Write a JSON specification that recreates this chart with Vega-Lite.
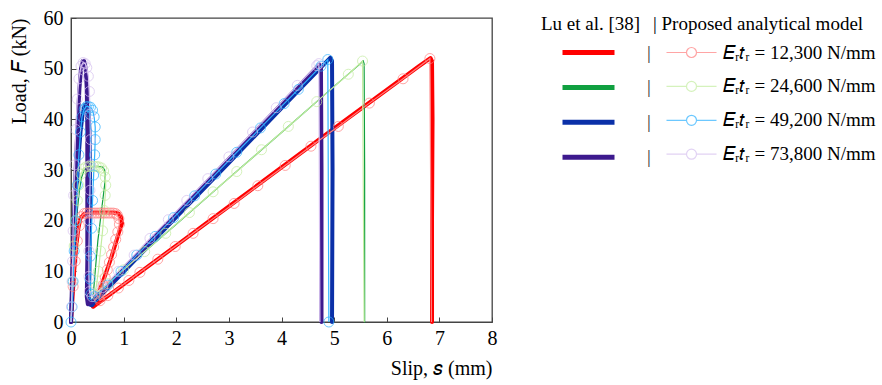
{
"$schema": "https://vega.github.io/schema/vega-lite/v6.json",
"width": 421, "height": 304,
"autosize": {"type": "none"},
"padding": {"left": 71, "top": 18, "right": 390, "bottom": 63},
"background": "white",
"config": {
  "font": "Liberation Serif",
  "view": {"stroke": "#444", "strokeWidth": 1.3},
  "axis": {"labelFont": "Liberation Serif", "labelFontSize": 20, "labelColor": "black", "titleFont": "Liberation Serif", "titleFontSize": 20, "titleFontWeight": "normal", "titleColor": "black", "domainColor": "#444", "tickColor": "#444", "grid": false, "tickSize": -5, "labelFlush": false},
  "legend": {"titleFont": "Liberation Serif", "titleFontSize": 19, "titleFontWeight": "normal", "titleColor": "black", "titleLimit": 400, "labelFont": "Liberation Serif", "labelFontSize": 19, "labelColor": "black", "labelLimit": 400, "padding": 0}
},
"datasets": {
"exp": [
{"series":"12,300","s":0,"F":0},{"series":"12,300","s":0.03,"F":5},{"series":"12,300","s":0.06,"F":10},{"series":"12,300","s":0.1,"F":15},{"series":"12,300","s":0.14,"F":18.5},{"series":"12,300","s":0.18,"F":20.5},{"series":"12,300","s":0.25,"F":21.3},{"series":"12,300","s":0.4,"F":21.6},{"series":"12,300","s":0.6,"F":21.6},{"series":"12,300","s":0.8,"F":21.6},{"series":"12,300","s":0.9,"F":21.4},{"series":"12,300","s":0.95,"F":20.8},{"series":"12,300","s":0.97,"F":19.5},{"series":"12,300","s":0.9,"F":17.3},{"series":"12,300","s":0.75,"F":12.2},{"series":"12,300","s":0.6,"F":7.8},{"series":"12,300","s":0.48,"F":4.3},{"series":"12,300","s":0.42,"F":3},{"series":"12,300","s":1,"F":7.4},{"series":"12,300","s":2,"F":15.1},{"series":"12,300","s":3,"F":22.8},{"series":"12,300","s":4,"F":30.5},{"series":"12,300","s":5,"F":38.2},{"series":"12,300","s":6,"F":45.8},{"series":"12,300","s":6.6,"F":50.4},{"series":"12,300","s":6.83,"F":52.1},{"series":"12,300","s":6.86,"F":51.5},{"series":"12,300","s":6.87,"F":40},{"series":"12,300","s":6.86,"F":20},{"series":"12,300","s":6.86,"F":0},
{"series":"24,600","s":0,"F":0},{"series":"24,600","s":0.02,"F":6},{"series":"24,600","s":0.05,"F":12},{"series":"24,600","s":0.08,"F":17},{"series":"24,600","s":0.12,"F":22},{"series":"24,600","s":0.16,"F":26},{"series":"24,600","s":0.2,"F":28.5},{"series":"24,600","s":0.25,"F":30},{"series":"24,600","s":0.35,"F":30.6},{"series":"24,600","s":0.5,"F":30.7},{"series":"24,600","s":0.6,"F":30.6},{"series":"24,600","s":0.64,"F":30},{"series":"24,600","s":0.65,"F":28},{"series":"24,600","s":0.58,"F":22},{"series":"24,600","s":0.51,"F":16},{"series":"24,600","s":0.46,"F":10},{"series":"24,600","s":0.42,"F":5},{"series":"24,600","s":1,"F":10.3},{"series":"24,600","s":2,"F":19.3},{"series":"24,600","s":3,"F":28.4},{"series":"24,600","s":4,"F":37.4},{"series":"24,600","s":5,"F":46.5},{"series":"24,600","s":5.5,"F":51},{"series":"24,600","s":5.55,"F":51.6},{"series":"24,600","s":5.57,"F":51},{"series":"24,600","s":5.58,"F":30},{"series":"24,600","s":5.58,"F":0},
{"series":"49,200","s":0,"F":0},{"series":"49,200","s":0.03,"F":8},{"series":"49,200","s":0.06,"F":16},{"series":"49,200","s":0.1,"F":25},{"series":"49,200","s":0.14,"F":32},{"series":"49,200","s":0.18,"F":37.5},{"series":"49,200","s":0.22,"F":41},{"series":"49,200","s":0.26,"F":42.8},{"series":"49,200","s":0.3,"F":43},{"series":"49,200","s":0.33,"F":42},{"series":"49,200","s":0.35,"F":38},{"series":"49,200","s":0.36,"F":30},{"series":"49,200","s":0.36,"F":20},{"series":"49,200","s":0.35,"F":10},{"series":"49,200","s":0.34,"F":5},{"series":"49,200","s":0.35,"F":3.5},{"series":"49,200","s":0.4,"F":3.3},{"series":"49,200","s":0.45,"F":4},{"series":"49,200","s":1,"F":9.9},{"series":"49,200","s":2,"F":20.7},{"series":"49,200","s":3,"F":31.4},{"series":"49,200","s":4,"F":42.2},{"series":"49,200","s":4.8,"F":50.8},{"series":"49,200","s":4.93,"F":52.2},{"series":"49,200","s":4.96,"F":51.5},{"series":"49,200","s":4.97,"F":30},{"series":"49,200","s":4.96,"F":0},
{"series":"73,800","s":0,"F":0},{"series":"73,800","s":0.02,"F":8},{"series":"73,800","s":0.04,"F":16},{"series":"73,800","s":0.07,"F":25},{"series":"73,800","s":0.1,"F":33},{"series":"73,800","s":0.13,"F":40},{"series":"73,800","s":0.16,"F":46},{"series":"73,800","s":0.19,"F":50},{"series":"73,800","s":0.22,"F":51.5},{"series":"73,800","s":0.25,"F":51.5},{"series":"73,800","s":0.28,"F":50},{"series":"73,800","s":0.3,"F":46},{"series":"73,800","s":0.31,"F":38},{"series":"73,800","s":0.31,"F":25},{"series":"73,800","s":0.31,"F":12},{"series":"73,800","s":0.3,"F":5},{"series":"73,800","s":0.32,"F":3.5},{"series":"73,800","s":0.38,"F":3.8},{"series":"73,800","s":1,"F":10.5},{"series":"73,800","s":2,"F":21.3},{"series":"73,800","s":3,"F":32.2},{"series":"73,800","s":4,"F":43},{"series":"73,800","s":4.6,"F":49.5},{"series":"73,800","s":4.72,"F":50.8},{"series":"73,800","s":4.75,"F":50},{"series":"73,800","s":4.76,"F":30},{"series":"73,800","s":4.76,"F":0}
],
"model": [
{"series":"12,300","s":0,"F":0},{"series":"12,300","s":0.04,"F":7},{"series":"12,300","s":0.08,"F":12},{"series":"12,300","s":0.12,"F":16},{"series":"12,300","s":0.16,"F":19},{"series":"12,300","s":0.2,"F":20.8},{"series":"12,300","s":0.25,"F":21.4},{"series":"12,300","s":0.3,"F":21.5},{"series":"12,300","s":0.35,"F":21.5},{"series":"12,300","s":0.4,"F":21.5},{"series":"12,300","s":0.45,"F":21.5},{"series":"12,300","s":0.5,"F":21.5},{"series":"12,300","s":0.55,"F":21.5},{"series":"12,300","s":0.6,"F":21.5},{"series":"12,300","s":0.65,"F":21.5},{"series":"12,300","s":0.7,"F":21.5},{"series":"12,300","s":0.75,"F":21.5},{"series":"12,300","s":0.8,"F":21.5},{"series":"12,300","s":0.85,"F":21.4},{"series":"12,300","s":0.88,"F":21.1},{"series":"12,300","s":0.91,"F":20.4},{"series":"12,300","s":0.92,"F":19.3},{"series":"12,300","s":0.89,"F":17.8},{"series":"12,300","s":0.85,"F":16.3},{"series":"12,300","s":0.81,"F":14.8},{"series":"12,300","s":0.77,"F":13.3},{"series":"12,300","s":0.73,"F":11.8},{"series":"12,300","s":0.69,"F":10.3},{"series":"12,300","s":0.65,"F":8.8},{"series":"12,300","s":0.61,"F":7.3},{"series":"12,300","s":0.57,"F":5.9},{"series":"12,300","s":0.53,"F":4.7},{"series":"12,300","s":0.55,"F":4.2},{"series":"12,300","s":0.7,"F":5.2},{"series":"12,300","s":0.9,"F":6.7},{"series":"12,300","s":1.1,"F":8.2},{"series":"12,300","s":1.31,"F":9.8},{"series":"12,300","s":1.65,"F":12.4},{"series":"12,300","s":1.98,"F":14.9},{"series":"12,300","s":2.32,"F":17.5},{"series":"12,300","s":2.7,"F":20.4},{"series":"12,300","s":3.1,"F":23.4},{"series":"12,300","s":3.55,"F":26.9},{"series":"12,300","s":4.07,"F":30.9},{"series":"12,300","s":4.56,"F":34.7},{"series":"12,300","s":5.08,"F":38.6},{"series":"12,300","s":5.67,"F":43.2},{"series":"12,300","s":6.31,"F":48},{"series":"12,300","s":6.82,"F":52},{"series":"12,300","s":6.85,"F":0},
{"series":"24,600","s":0,"F":0},{"series":"24,600","s":0.03,"F":8},{"series":"24,600","s":0.06,"F":15},{"series":"24,600","s":0.09,"F":20},{"series":"24,600","s":0.12,"F":24},{"series":"24,600","s":0.15,"F":27},{"series":"24,600","s":0.19,"F":29.2},{"series":"24,600","s":0.23,"F":30.2},{"series":"24,600","s":0.28,"F":30.6},{"series":"24,600","s":0.33,"F":30.7},{"series":"24,600","s":0.38,"F":30.7},{"series":"24,600","s":0.43,"F":30.7},{"series":"24,600","s":0.48,"F":30.7},{"series":"24,600","s":0.53,"F":30.6},{"series":"24,600","s":0.58,"F":30.4},{"series":"24,600","s":0.62,"F":29.8},{"series":"24,600","s":0.65,"F":28.6},{"series":"24,600","s":0.66,"F":27},{"series":"24,600","s":0.65,"F":25},{"series":"24,600","s":0.63,"F":22},{"series":"24,600","s":0.6,"F":18},{"series":"24,600","s":0.56,"F":14},{"series":"24,600","s":0.52,"F":10},{"series":"24,600","s":0.48,"F":7},{"series":"24,600","s":0.45,"F":5.5},{"series":"24,600","s":0.7,"F":7.6},{"series":"24,600","s":1,"F":10.3},{"series":"24,600","s":1.4,"F":13.9},{"series":"24,600","s":1.8,"F":17.5},{"series":"24,600","s":2.25,"F":21.6},{"series":"24,600","s":2.7,"F":25.7},{"series":"24,600","s":3.15,"F":29.7},{"series":"24,600","s":3.62,"F":34},{"series":"24,600","s":4.13,"F":38.6},{"series":"24,600","s":4.67,"F":43.5},{"series":"24,600","s":5.27,"F":48.9},{"series":"24,600","s":5.54,"F":51.5},{"series":"24,600","s":5.57,"F":0},
{"series":"49,200","s":0,"F":0},{"series":"49,200","s":0.02,"F":3},{"series":"49,200","s":0.04,"F":8},{"series":"49,200","s":0.06,"F":14},{"series":"49,200","s":0.09,"F":20},{"series":"49,200","s":0.12,"F":27},{"series":"49,200","s":0.15,"F":33},{"series":"49,200","s":0.18,"F":37.5},{"series":"49,200","s":0.21,"F":40.5},{"series":"49,200","s":0.25,"F":42},{"series":"49,200","s":0.29,"F":42.5},{"series":"49,200","s":0.33,"F":42.5},{"series":"49,200","s":0.37,"F":42.4},{"series":"49,200","s":0.41,"F":41.8},{"series":"49,200","s":0.44,"F":40.5},{"series":"49,200","s":0.46,"F":38.5},{"series":"49,200","s":0.46,"F":36},{"series":"49,200","s":0.45,"F":33},{"series":"49,200","s":0.43,"F":29},{"series":"49,200","s":0.41,"F":24},{"series":"49,200","s":0.39,"F":18.5},{"series":"49,200","s":0.37,"F":13},{"series":"49,200","s":0.36,"F":8.5},{"series":"49,200","s":0.38,"F":5.5},{"series":"49,200","s":0.45,"F":5},{"series":"49,200","s":0.7,"F":7.3},{"series":"49,200","s":0.95,"F":10},{"series":"49,200","s":1.25,"F":13.2},{"series":"49,200","s":1.6,"F":16.9},{"series":"49,200","s":1.95,"F":20.6},{"series":"49,200","s":2.35,"F":24.9},{"series":"49,200","s":2.75,"F":29.2},{"series":"49,200","s":3.15,"F":33.5},{"series":"49,200","s":3.6,"F":38.3},{"series":"49,200","s":4.05,"F":43.1},{"series":"49,200","s":4.32,"F":45.9},{"series":"49,200","s":4.75,"F":50.5},{"series":"49,200","s":4.88,"F":51.8},{"series":"49,200","s":4.9,"F":0},
{"series":"73,800","s":0,"F":0},{"series":"73,800","s":0.01,"F":3},{"series":"73,800","s":0.02,"F":8},{"series":"73,800","s":0.03,"F":12},{"series":"73,800","s":0.04,"F":18},{"series":"73,800","s":0.05,"F":25},{"series":"73,800","s":0.07,"F":31},{"series":"73,800","s":0.09,"F":38},{"series":"73,800","s":0.12,"F":44},{"series":"73,800","s":0.15,"F":48},{"series":"73,800","s":0.19,"F":50.5},{"series":"73,800","s":0.23,"F":51.2},{"series":"73,800","s":0.27,"F":51},{"series":"73,800","s":0.3,"F":50.2},{"series":"73,800","s":0.33,"F":48.5},{"series":"73,800","s":0.35,"F":45.5},{"series":"73,800","s":0.36,"F":41},{"series":"73,800","s":0.37,"F":36},{"series":"73,800","s":0.37,"F":31},{"series":"73,800","s":0.36,"F":26},{"series":"73,800","s":0.35,"F":20},{"series":"73,800","s":0.34,"F":14},{"series":"73,800","s":0.34,"F":9},{"series":"73,800","s":0.35,"F":6},{"series":"73,800","s":0.4,"F":5},{"series":"73,800","s":0.6,"F":6.8},{"series":"73,800","s":0.9,"F":10},{"series":"73,800","s":1.2,"F":13.2},{"series":"73,800","s":1.5,"F":16.5},{"series":"73,800","s":1.85,"F":20.2},{"series":"73,800","s":2.2,"F":24},{"series":"73,800","s":2.6,"F":28.3},{"series":"73,800","s":3,"F":32.6},{"series":"73,800","s":3.45,"F":37.5},{"series":"73,800","s":3.9,"F":42.3},{"series":"73,800","s":4.3,"F":46.7},{"series":"73,800","s":4.67,"F":50.6},{"series":"73,800","s":4.71,"F":51},{"series":"73,800","s":4.73,"F":0}
]
},
"layer": [
  {
    "data": {"name": "exp"},
    "mark": {"type": "line", "strokeCap": "round", "strokeJoin": "round"},
    "encoding": {
      "x": {"field": "s", "type": "quantitative", "scale": {"domain": [0, 8], "nice": false},
            "axis": {"orient": "bottom", "values": [0,1,2,3,4,5,6,7,8], "title": "Slip, 𝑠 (mm)", "titleAnchor": "end", "labelFont": "Liberation Serif", "labelPadding": 11, "titlePadding": 10}},
      "y": {"field": "F", "type": "quantitative", "scale": {"domain": [0, 60], "nice": false},
            "axis": {"orient": "left", "values": [0,10,20,30,40,50,60], "title": "Load, 𝐹 (kN)", "titleAnchor": "end", "labelFont": "Liberation Serif", "labelPadding": 13, "titlePadding": 14}},
      "color": {"field": "series", "type": "nominal",
                "scale": {"domain": ["12,300","24,600","49,200","73,800"], "range": ["#ff0000","#10a040","#0a30a8","#3d1a8e"]},
                "legend": {"orient": "none", "legendX": 470, "legendY": -3, "title": "Lu et al. [38]", "symbolType": "M-5.2,0H5.2", "symbolSize": 100, "symbolStrokeWidth": 5, "symbolOffset": 38, "labelExpr": "'|'", "labelColor": "#333", "labelOffset": 49, "titlePadding": 9, "rowPadding": 13.9}},
      "strokeWidth": {"condition": {"test": "datum.series == '24,600'", "value": 1.2}, "value": 4},
      "order": {"value": null}
    }
  },
  {
    "data": {"name": "model"},
    "layer": [
      {
        "mark": {"type": "line", "strokeWidth": 1.2},
        "encoding": {
          "x": {"field": "s", "type": "quantitative", "axis": {"orient": "top", "values": [0,1,2,3,4,5,6,7,8], "labels": false, "title": null, "domain": false}},
          "y": {"field": "F", "type": "quantitative", "axis": {"orient": "right", "values": [0,10,20,30,40,50,60], "labels": false, "title": null, "domain": false}},
          "color": {"field": "series", "type": "nominal",
                    "scale": {"domain": ["12,300","24,600","49,200","73,800"], "range": ["#ff7f7f","#c4eda0","#2eb2ff","#d6c0f0"]},
                    "legend": {"orient": "none", "legendX": 582, "legendY": -3, "title": "| Proposed analytical model", "symbolType": "M-5,0H-1M1,0H5M1,0A1,1 0 1,1 -1,0A1,1 0 1,1 1,0", "symbolSize": 100, "symbolStrokeWidth": 1.2, "symbolFillColor": "transparent", "symbolOffset": 29, "labelOffset": 22, "labelExpr": "'𝐸ᵣ𝑡ᵣ = ' + datum.label + ' N/mm'", "titlePadding": 9, "rowPadding": 13.9}},
          "order": {"value": null}
        }
      },
      {
        "transform": [{"filter": "datum.F > 0 || datum.series == '49,200'"}],
        "mark": {"type": "point", "filled": false, "size": 100, "strokeWidth": 1},
        "encoding": {
          "x": {"field": "s", "type": "quantitative", "axis": null},
          "y": {"field": "F", "type": "quantitative", "axis": null},
          "color": {"field": "series", "type": "nominal"}
        }
      }
    ]
  }
],
"resolve": {"scale": {"color": "independent"}, "axis": {"x": "independent", "y": "independent"}}
}
